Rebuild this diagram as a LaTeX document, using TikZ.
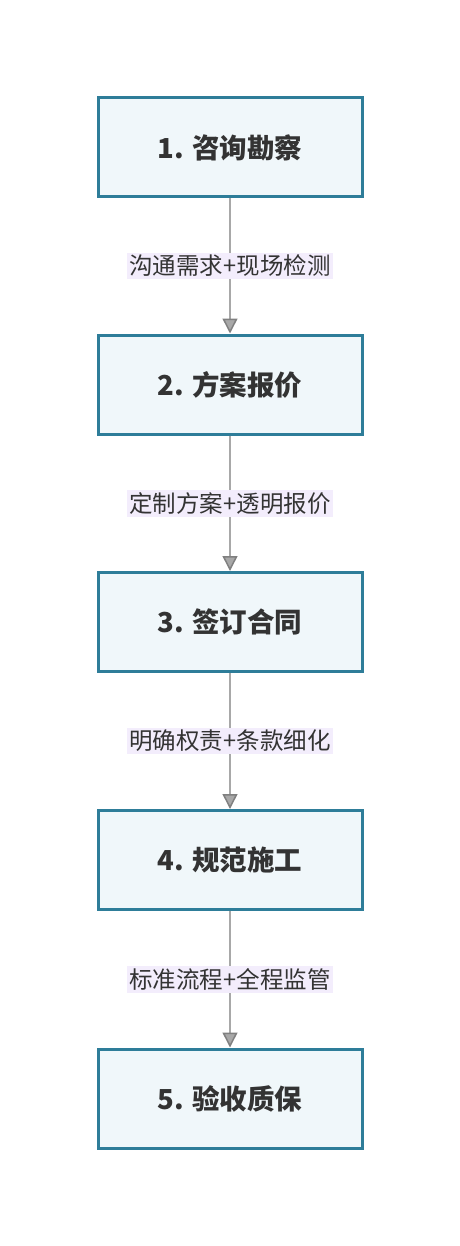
\documentclass[tikz,border=0pt]{standalone}
\usepackage{fontspec}
\setmainfont{Noto Sans CJK SC}
\usetikzlibrary{positioning, arrows.meta}
\definecolor{stepline}{HTML}{2E7D99}
\definecolor{stepfill}{HTML}{F0F7FA}
\definecolor{labelfill}{HTML}{F3EDFC}
\definecolor{linkgray}{HTML}{A8A8A8}
\definecolor{textdark}{HTML}{333333}
\begin{document}
\begin{tikzpicture}[
    x=1pt, y=-1pt,
    stepbox/.style={draw=stepline, line width=3pt, fill=stepfill,
      minimum width=264pt, minimum height=99pt, text=textdark,
      font=\fontsize{27.5}{32}\selectfont\bfseries},
    linklabel/.style={fill=labelfill, text=textdark, inner sep=2.5pt,
      font=\fontsize{23.5}{28}\selectfont},
    link/.style={draw=linkgray, line width=1.5pt,
      -{Triangle[length=15pt, width=15pt, fill=linkgray, color=gray]}},
  ]
    \useasboundingbox (0,0) rectangle (459,1246);

    \node[stepbox] (s1) at (230,147.5)  {1. 咨询勘察};
    \node[stepbox] (s2) at (230,384.5)  {2. 方案报价};
    \node[stepbox] (s3) at (230,622)    {3. 签订合同};
    \node[stepbox] (s4) at (230,860)    {4. 规范施工};
    \node[stepbox] (s5) at (230,1098.5) {5. 验收质保};

    \draw[link] (s1) -- node[linklabel] {沟通需求+现场检测} (s2);
    \draw[link] (s2) -- node[linklabel] {定制方案+透明报价} (s3);
    \draw[link] (s3) -- node[linklabel] {明确权责+条款细化} (s4);
    \draw[link] (s4) -- node[linklabel] {标准流程+全程监管} (s5);
  \end{tikzpicture}
\end{document}
